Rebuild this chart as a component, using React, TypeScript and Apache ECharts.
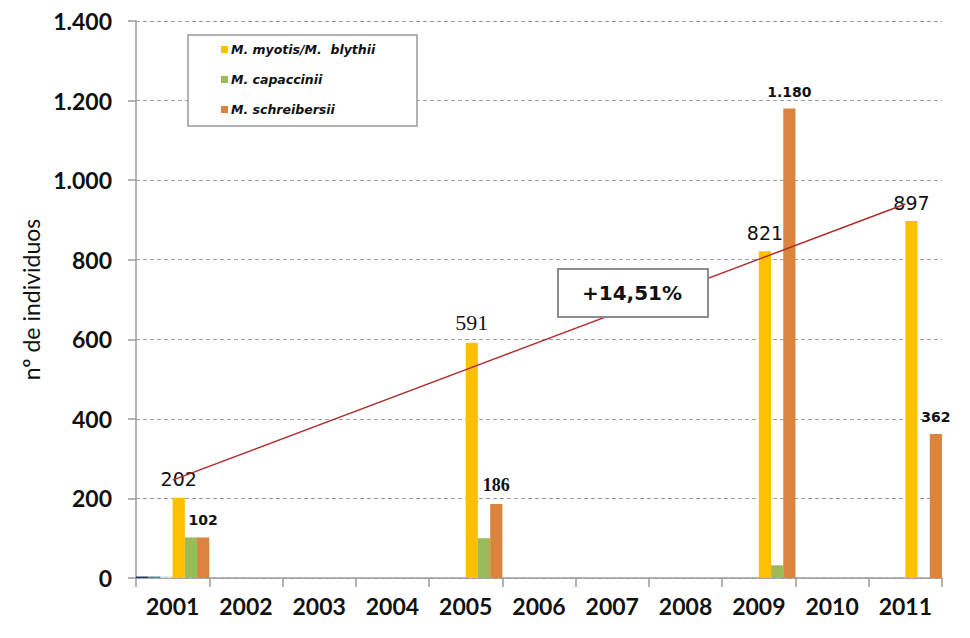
import React, { useEffect, useRef } from "react";
import * as echarts from "echarts";

const years = ["2001", "2002", "2003", "2004", "2005", "2006", "2007", "2008", "2009", "2010", "2011"];
const myotis = [202, null, null, null, 591, null, null, null, 821, null, 897];
const capaccinii = [102, null, null, null, 100, null, null, null, 32, null, null];
const schreibersii = [102, null, null, null, 186, null, null, null, 1180, null, 362];
const otherA = [0, null, null, null, null, null, null, null, null, null, null];
const otherB = [0, null, null, null, null, null, null, null, null, null, null];
const otherC = [0, null, null, null, null, null, null, null, null, null, null];
const trend = [246, null, null, null, null, null, null, null, null, null, 940];
const seriesNames = ["M. myotis/M.  blythii", "M. capaccinii", "M. schreibersii"];
const trendText = "+14,51%";
const yAxisName = "nº de individuos";

const fmt = (v: number) => String(v).replace(/\B(?=(\d{3})+(?!\d))/g, ".");

export default function App() {
  const ref = useRef<HTMLDivElement>(null);
  useEffect(() => {
    if (!ref.current) return;
    const chart = echarts.init(ref.current, null, { renderer: "svg" });
    const bigLabel = {
      show: true,
      position: "top",
      distance: 9,
      color: "#111",
      fontFamily: "DejaVu Sans",
      fontSize: 19,
      formatter: (p: any) => fmt(p.value),
    };
    const smallLabel = {
      show: true,
      position: "top",
      distance: 10,
      color: "#111",
      fontFamily: "DejaVu Sans",
      fontWeight: "bold",
      fontSize: 14,
      formatter: (p: any) => fmt(p.value),
    };
    const myotisData = myotis.map((v) =>
      v === 591
        ? { value: v, label: { fontFamily: "Liberation Serif", fontSize: 22 } }
        : v
    );
    const schreiData = schreibersii.map((v) =>
      v === 186
        ? { value: v, label: { fontFamily: "Liberation Serif", fontSize: 18 } }
        : v
    );
    chart.setOption({
      animation: false,
      grid: { left: 136, right: 28, top: 21, bottom: 60, containLabel: false },
      legend: {
        data: seriesNames,
        orient: "vertical",
        left: 221,
        top: 43,
        itemWidth: 7,
        itemHeight: 7,
        itemGap: 17,
        icon: "rect",
        padding: 0,
        z: 5,
        textStyle: {
          fontFamily: "DejaVu Sans",
          fontStyle: "italic",
          fontWeight: "bold",
          fontSize: 12.5,
          color: "#111",
          lineHeight: 13,
          padding: [0, 0, 0, -2],
        },
      },
      xAxis: {
        type: "category",
        data: years,
        axisLine: { lineStyle: { color: "#9a9a9a", width: 1.5 } },
        axisTick: { show: true, length: 9, lineStyle: { color: "#9a9a9a", width: 1.5 } },
        axisLabel: {
          fontFamily: "Lato",
          fontWeight: "bold",
          fontSize: 23,
          color: "#111",
          margin: 16,
        },
      },
      yAxis: {
        type: "value",
        min: 0,
        max: 1400,
        interval: 200,
        name: yAxisName,
        nameLocation: "middle",
        nameGap: 87,
        nameTextStyle: { fontFamily: "Lato", fontSize: 23, color: "#111" },
        axisLine: { show: true, lineStyle: { color: "#9a9a9a", width: 1.5 } },
        axisTick: { show: true, length: 8, lineStyle: { color: "#9a9a9a", width: 1.5 } },
        axisLabel: {
          fontFamily: "Lato",
          fontWeight: "bold",
          fontSize: 23,
          color: "#111",
          margin: 24,
          formatter: (v: number) => fmt(v),
        },
        splitLine: { lineStyle: { color: "#a0a0a0", type: [4, 3], width: 1 } },
      },
      graphic: [
        {
          type: "rect",
          z: 3,
          shape: { x: 188, y: 35, width: 229, height: 91 },
          style: { fill: "#fff", stroke: "#9a9a9a", lineWidth: 1.5 },
        },
        {
          type: "group",
          z: 20,
          children: [
            {
              type: "rect",
              z: 20,
              shape: { x: 558, y: 269, width: 150, height: 48 },
              style: { fill: "#fff", stroke: "#8c8c8c", lineWidth: 2 },
            },
            {
              type: "text",
              z: 21,
              x: 632,
              y: 293,
              style: {
                text: trendText,
                fontFamily: "DejaVu Sans",
                fontWeight: "bold",
                fontSize: 20,
                fill: "#111",
                align: "center",
                verticalAlign: "middle",
              },
            },
          ],
        },
      ],
      series: [
        { name: "a", type: "bar", data: otherA, barGap: 0, barCategoryGap: 0, barMinHeight: 1.5, itemStyle: { color: "#1F3864" } },
        { name: "b", type: "bar", data: otherB, barGap: 0, barMinHeight: 1.5, itemStyle: { color: "#4F81BD" } },
        { name: "c", type: "bar", data: otherC, barGap: 0, barMinHeight: 1.5, itemStyle: { color: "#C6D9F1" } },
        { name: seriesNames[0], type: "bar", data: myotisData, barGap: 0, itemStyle: { color: "#FFC000" }, label: bigLabel },
        { name: seriesNames[1], type: "bar", data: capaccinii, barGap: 0, itemStyle: { color: "#9BBB59" } },
        { name: seriesNames[2], type: "bar", data: schreiData, barGap: 0, itemStyle: { color: "#DB843D" }, label: smallLabel },
        {
          name: "trend",
          type: "line",
          data: trend,
          connectNulls: true,
          symbol: "none",
          z: 6,
          lineStyle: { color: "#B02A2A", width: 1.5 },
        },
      ],
    });
    return () => chart.dispose();
  }, []);
  return (
    <div
      ref={ref}
      style={{ position: "fixed", left: 0, top: 0, width: 970, height: 638, background: "#fff" }}
    />
  );
}
